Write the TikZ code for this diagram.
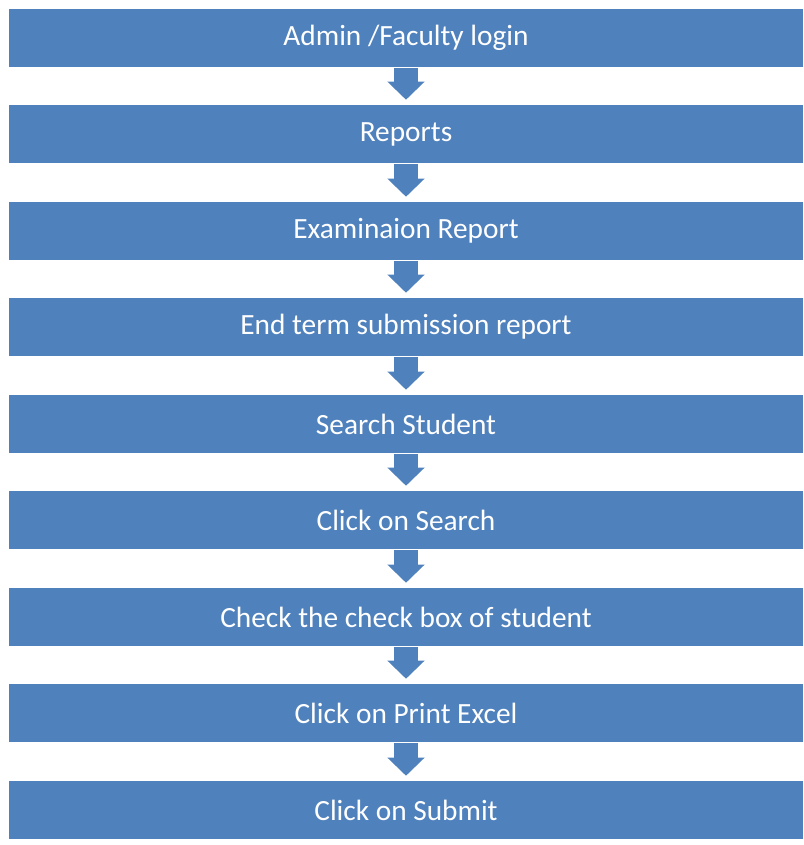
\documentclass[tikz,border=0pt]{standalone}
\usepackage{fontspec}
\setmainfont{Carlito}
\usetikzlibrary{arrows.meta}
\definecolor{boxblue}{HTML}{4F81BD}
\begin{document}
\begin{tikzpicture}[x=0.75pt,y=-0.75pt,
  stepbox/.style={fill=boxblue,draw=none,text=white,minimum width=595.5pt,minimum height=43.5pt,inner sep=0pt,font=\fontsize{22}{26}\selectfont},
  flowarrow/.style={draw=boxblue,line width=18pt,line cap=butt,-{Triangle[width=27pt,length=13.5pt]}}]
\useasboundingbox (0,0) rectangle (803,845);
\node[stepbox] (b1) at (406,38) {Admin /Faculty login};
\node[stepbox] (b2) at (406,134) {Reports};
\node[stepbox] (b3) at (406,231) {Examinaion Report};
\node[stepbox] (b4) at (406,327) {End term submission report};
\node[stepbox] (b5) at (406,424) {Search Student};
\node[stepbox] (b6) at (406,520) {Click on Search};
\node[stepbox] (b7) at (406,617) {Check the check box of student};
\node[stepbox] (b8) at (406,713) {Click on Print Excel};
\node[stepbox] (b9) at (406,810) {Click on Submit};
\foreach \a/\b in {b1/b2,b2/b3,b3/b4,b4/b5,b5/b6,b6/b7,b7/b8,b8/b9}
  \draw[flowarrow] ([yshift=-0.75pt]\a.south) -- ([yshift=3.75pt]\b.north);
\end{tikzpicture}
\end{document}
